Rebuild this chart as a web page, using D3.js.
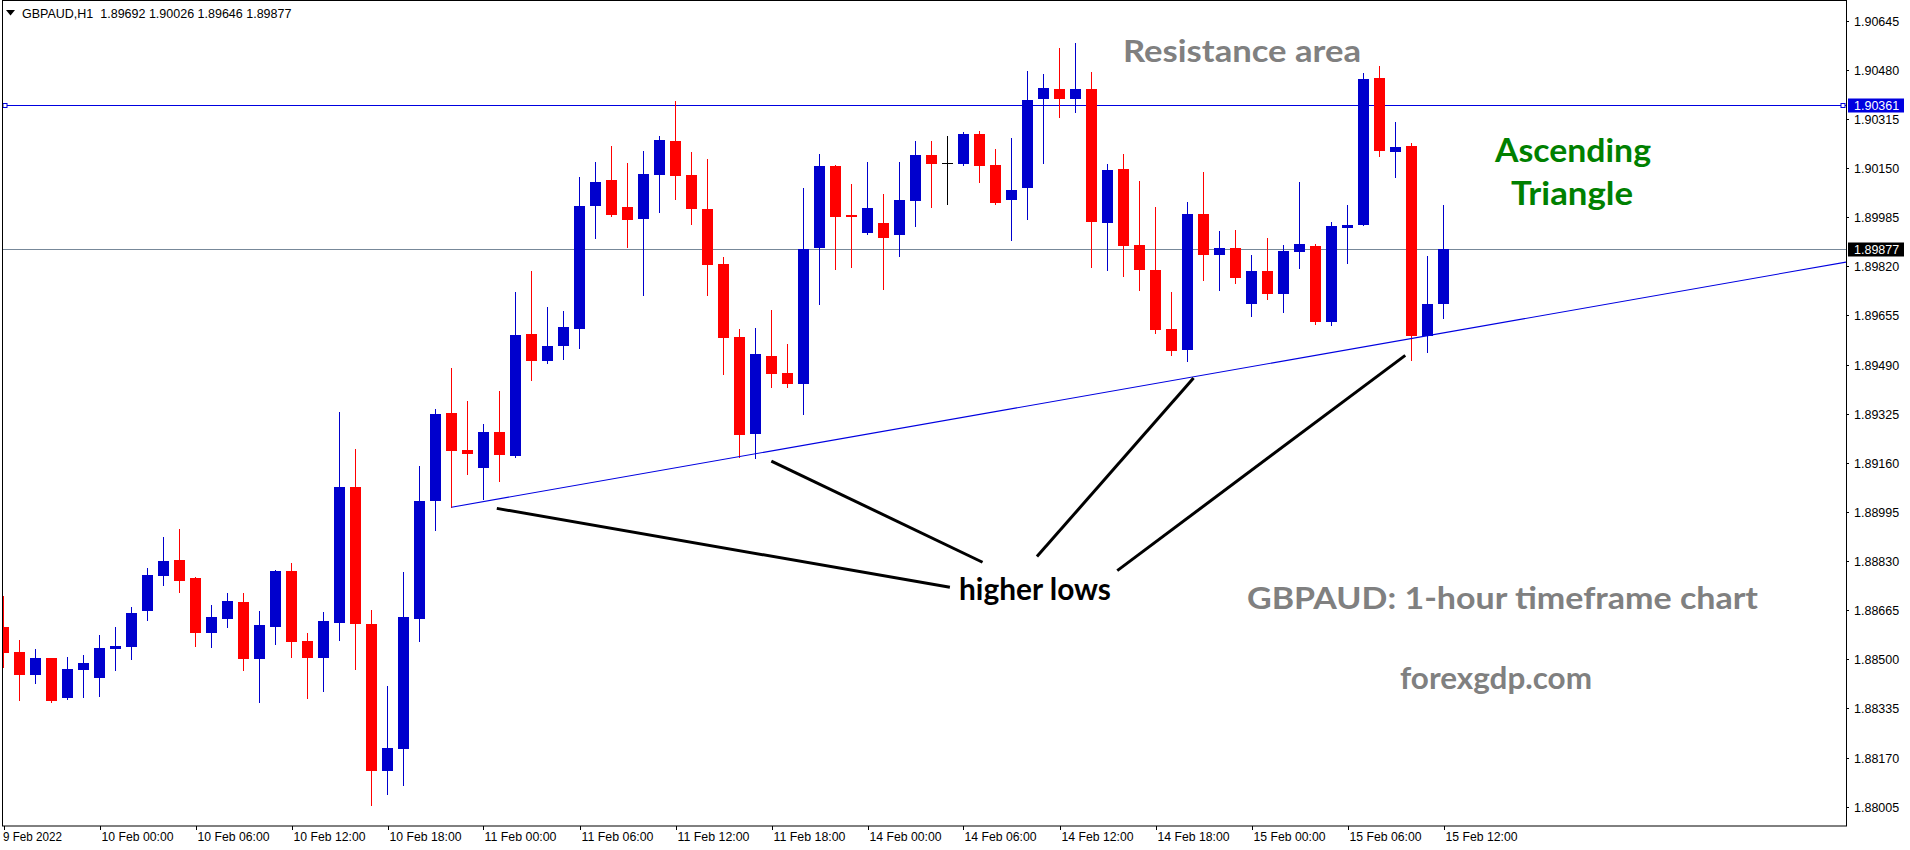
<!DOCTYPE html>
<html><head><meta charset="utf-8">
<script src="https://cdn.jsdelivr.net/npm/d3@7"></script>
<style>html,body{margin:0;padding:0;background:#fff;overflow:hidden;} svg{display:block;}</style>
</head><body>
<svg id="chart" width="1910" height="850"></svg>
<script>
// ---------------- DATA ----------------
const symbol = "GBPAUD,H1";
const headerValues = ["1.89692", "1.90026", "1.89646", "1.89877"];

const openP = [
1.88609,1.88525,1.88448,1.88504,1.88371,1.88465,1.88438,1.88536,1.88542,1.88663,
1.88781,1.88834,1.88773,1.88590,1.88637,1.88693,1.88502,1.88610,1.88797,1.88562,
1.88506,1.88623,1.89079,1.88619,1.88126,1.88200,1.88637,1.89033,1.89327,1.89203,
1.89144,1.89264,1.89184,1.89593,1.89503,1.89553,1.89611,1.90023,1.90110,1.90019,
1.89980,1.90128,1.90241,1.90127,1.90013,1.89828,1.89583,1.89258,1.89519,1.89462,
1.89426,1.89883,1.90157,1.89993,1.89933,1.89966,1.89926,1.90040,1.90194,1.90166,
1.90165,1.90264,1.90160,1.90044,1.90084,1.90383,1.90416,1.90383,1.90416,1.89967,
1.90147,1.89892,1.89809,1.89610,1.89540,1.89997,1.89859,1.89882,1.89695,1.89804,
1.89728,1.89869,1.89888,1.89634,1.89950,1.89960,1.90452,1.90205,1.90224,1.89587,
1.89692];
const highP = [
1.88713,1.88565,1.88535,1.88506,1.88508,1.88514,1.88582,1.88609,1.88676,1.88807,
1.88911,1.88938,1.88778,1.88683,1.88723,1.88723,1.88662,1.88800,1.88824,1.88588,
1.88659,1.89331,1.89206,1.88666,1.88411,1.88793,1.89149,1.89341,1.89479,1.89368,
1.89290,1.89401,1.89734,1.89804,1.89683,1.89670,1.90120,1.90170,1.90224,1.90167,
1.90207,1.90258,1.90375,1.90204,1.90181,1.89851,1.89610,1.89613,1.89673,1.89559,
1.90083,1.90197,1.90160,1.90097,1.90170,1.90063,1.90170,1.90241,1.90241,1.90258,
1.90271,1.90275,1.90214,1.90251,1.90476,1.90466,1.90553,1.90570,1.90473,1.90164,
1.90197,1.90107,1.90020,1.89734,1.90036,1.90137,1.89939,1.89942,1.89858,1.89915,
1.89892,1.90103,1.89895,1.89969,1.90026,1.90469,1.90493,1.90305,1.90234,1.89855,
1.90026];
const lowP = [
1.88475,1.88363,1.88421,1.88358,1.88366,1.88374,1.88378,1.88465,1.88502,1.88633,
1.88751,1.88727,1.88546,1.88542,1.88610,1.88465,1.88358,1.88553,1.88509,1.88371,
1.88395,1.88566,1.88469,1.88012,1.88049,1.88079,1.88563,1.88935,1.89011,1.89124,
1.89040,1.89100,1.89181,1.89439,1.89496,1.89510,1.89547,1.89916,1.89989,1.89886,
1.89725,1.90004,1.90047,1.89963,1.89725,1.89459,1.89181,1.89177,1.89416,1.89416,
1.89325,1.89695,1.89812,1.89819,1.89929,1.89745,1.89856,1.89956,1.90020,1.90028,
1.90161,1.90104,1.90030,1.89909,1.89980,1.90168,1.90323,1.90339,1.89819,1.89809,
1.89789,1.89742,1.89597,1.89523,1.89503,1.89775,1.89742,1.89765,1.89654,1.89711,
1.89668,1.89815,1.89627,1.89624,1.89832,1.89960,1.90192,1.90121,1.89506,1.89533,
1.89646];
const closeP = [
1.88522,1.88448,1.88504,1.88361,1.88467,1.88488,1.88538,1.88545,1.88656,1.88783,
1.88830,1.88764,1.88590,1.88642,1.88696,1.88502,1.88615,1.88797,1.88559,1.88506,
1.88629,1.89079,1.88620,1.88126,1.88202,1.88642,1.89032,1.89324,1.89201,1.89191,
1.89264,1.89187,1.89589,1.89503,1.89552,1.89616,1.90023,1.90103,1.89993,1.89977,
1.90130,1.90244,1.90124,1.90014,1.89826,1.89580,1.89255,1.89526,1.89459,1.89426,
1.89878,1.90157,1.89987,1.89987,1.90016,1.89916,1.90043,1.90194,1.90165,1.90166,
1.90264,1.90158,1.90034,1.90076,1.90379,1.90419,1.90383,1.90416,1.89970,1.90144,
1.89889,1.89809,1.89607,1.89537,1.89997,1.89859,1.89882,1.89782,1.89804,1.89728,
1.89872,1.89895,1.89634,1.89955,1.89959,1.90449,1.90208,1.90221,1.89587,1.89693,
1.89877];

const timeTickIndex = [0,6,12,18,24,30,36,42,48,54,60,66,72,78,84,90];
const timeTickLabels = ["9 Feb 2022","10 Feb 00:00","10 Feb 06:00","10 Feb 12:00","10 Feb 18:00",
  "11 Feb 00:00","11 Feb 06:00","11 Feb 12:00","11 Feb 18:00","14 Feb 00:00","14 Feb 06:00",
  "14 Feb 12:00","14 Feb 18:00","15 Feb 00:00","15 Feb 06:00","15 Feb 12:00"];
const priceTicks = [1.90645,1.90480,1.90315,1.90150,1.89985,1.89820,1.89655,1.89490,1.89325,
  1.89160,1.88995,1.88830,1.88665,1.88500,1.88335,1.88170,1.88005];

const resistanceLevel = 1.90361;
const bidPrice = 1.89877;
// trend line anchors (bar index, price)
const trendA = [28, 1.89011];
const trendB = [46, 1.89181];
// pointer lines for "higher lows" (bar index, price)
const pointerLines = [
  [[30.83, 1.89007], [59.15, 1.88742]],
  [[47.99, 1.89166], [61.19, 1.88826]],
  [[74.38, 1.89445], [64.59, 1.88845]],
  [[87.61, 1.89521], [69.61, 1.88798]]
];

// ---------------- LAYOUT ----------------
const W = 1910, H = 850;
const plotL = 2, plotR = 1846, plotT = 0.5, plotB = 826;
const svg = d3.select("#chart");
const n = openP.length;

const x = d3.scaleLinear().domain([0, n - 1]).range([3.5, 3.5 + 16 * (n - 1)]);
const y = d3.scaleLinear().domain([1.88005, 1.90645]).range([806.7, 20.7]);

const BLUE = "#0000cd", RED = "#ff0000";
const LINEBLUE = "#0000e0";
const axisFont = "'Liberation Sans', Arial, sans-serif";
const annFont = "Lato, 'Open Sans', sans-serif";

svg.append("rect").attr("width", W).attr("height", H).attr("fill", "#fff");

svg.append("defs").append("clipPath").attr("id", "plotclip")
  .append("rect").attr("x", plotL).attr("y", 0).attr("width", plotR - plotL).attr("height", plotB);

const plot = svg.append("g").attr("clip-path", "url(#plotclip)");

// bid line
plot.append("line")
  .attr("x1", plotL).attr("x2", plotR)
  .attr("y1", Math.round(y(bidPrice)) + 0.5).attr("y2", Math.round(y(bidPrice)) + 0.5)
  .attr("stroke", "#778899").attr("stroke-width", 1);

// resistance line
const ry = Math.round(y(resistanceLevel)) + 0.5;
plot.append("line")
  .attr("x1", plotL).attr("x2", plotR).attr("y1", ry).attr("y2", ry)
  .attr("stroke", LINEBLUE).attr("stroke-width", 1);
[plotL + 3, plotR - 3].forEach(cx => {
  plot.append("rect").attr("x", cx - 2).attr("y", ry - 2).attr("width", 4).attr("height", 4)
    .attr("fill", "#fff").attr("stroke", LINEBLUE).attr("stroke-width", 1);
});

// candles
const candles = plot.append("g");
for (let i = 0; i < n; i++) {
  const o = openP[i], h = highP[i], l = lowP[i], c = closeP[i];
  const col = c > o ? BLUE : (c < o ? RED : "#000");
  const cx = x(i);
  candles.append("line")
    .attr("x1", cx).attr("x2", cx)
    .attr("y1", Math.round(y(h))).attr("y2", Math.round(y(l)) + 1)
    .attr("stroke", col).attr("stroke-width", 1);
  const top = Math.round(y(Math.max(o, c)));
  const bot = Math.round(y(Math.min(o, c)));
  candles.append("rect")
    .attr("x", cx - 5.5).attr("width", 11)
    .attr("y", top).attr("height", Math.max(1, bot - top))
    .attr("fill", col);
}

// trend line (ray to the right edge)
const slope = (trendB[1] - trendA[1]) / (trendB[0] - trendA[0]);
const iEnd = x.invert(plotR);
plot.append("line")
  .attr("x1", x(trendA[0])).attr("y1", y(trendA[1]))
  .attr("x2", x(iEnd)).attr("y2", y(trendA[1] + slope * (iEnd - trendA[0])))
  .attr("stroke", LINEBLUE).attr("stroke-width", 1.1);

// pointer lines
pointerLines.forEach(seg => {
  plot.append("line")
    .attr("x1", x(seg[0][0])).attr("y1", y(seg[0][1]))
    .attr("x2", x(seg[1][0])).attr("y2", y(seg[1][1]))
    .attr("stroke", "#000").attr("stroke-width", 3);
});

// frame
svg.append("rect").attr("x", plotL + 0.5).attr("y", plotT)
  .attr("width", plotR - plotL).attr("height", plotB - plotT)
  .attr("fill", "none").attr("stroke", "#000").attr("stroke-width", 1);

// header
svg.append("path").attr("d", "M6,10 L15,10 L10.5,15.5 Z").attr("fill", "#000");
svg.append("text").attr("x", 22).attr("y", 17.5)
  .attr("font-family", axisFont).attr("font-size", 12.5).attr("fill", "#000")
  .style("white-space", "pre")
  .text(symbol + "  " + headerValues.join(" "));

// right price axis
const pax = svg.append("g");
priceTicks.forEach(p => {
  const ty = Math.round(y(p)) + 0.5;
  pax.append("line").attr("x1", plotR).attr("x2", plotR + 3).attr("y1", ty).attr("y2", ty)
    .attr("stroke", "#000");
  pax.append("text").attr("x", 1854).attr("y", ty + 4.5)
    .attr("font-family", axisFont).attr("font-size", 12.5).attr("fill", "#000")
    .text(d3.format(".5f")(p));
});

function tag(p, bg) {
  const ty = y(p);
  pax.append("rect").attr("x", plotR + 2).attr("y", Math.round(ty) - 6.5)
    .attr("width", 56).attr("height", 14).attr("fill", bg);
  pax.append("text").attr("x", 1854).attr("y", Math.round(ty) + 5)
    .attr("font-family", axisFont).attr("font-size", 12.5).attr("fill", "#fff")
    .text(d3.format(".5f")(p));
}
tag(resistanceLevel, LINEBLUE);
tag(bidPrice, "#000");

// bottom time axis
const tax = svg.append("g");
timeTickIndex.forEach((idx, k) => {
  const tx = Math.round(x(idx)) + 0.5;
  tax.append("line").attr("x1", tx).attr("x2", tx).attr("y1", plotB).attr("y2", plotB + 4)
    .attr("stroke", "#000");
  tax.append("text").attr("x", k === 0 ? tx - 1.5 : tx + 1).attr("y", 841)
    .attr("font-family", axisFont).attr("font-size", 12).attr("fill", "#000")
    .attr("textLength", k === 0 ? 59 : 72).attr("lengthAdjust", "spacingAndGlyphs")
    .text(timeTickLabels[k]);
});

// annotations
const ann = svg.append("g").attr("font-family", annFont).attr("font-weight", "bold");
function annText(t, x0, x1, base, size, color) {
  ann.append("text").attr("x", x0).attr("y", base).attr("font-size", size)
    .attr("fill", color).attr("textLength", x1 - x0).attr("lengthAdjust", "spacingAndGlyphs")
    .text(t);
}
annText("Resistance area", 1123, 1361, 62, 31, "#808080");
annText("Ascending", 1495, 1651, 161.5, 32, "#008000");
annText("Triangle", 1511, 1633, 205, 32, "#008000");
annText("higher lows", 959, 1111, 600, 30, "#000");
annText("GBPAUD: 1-hour timeframe chart", 1247, 1758, 609, 31, "#808080");
annText("forexgdp.com", 1400, 1592, 689, 31, "#808080");
</script>
</body></html>
